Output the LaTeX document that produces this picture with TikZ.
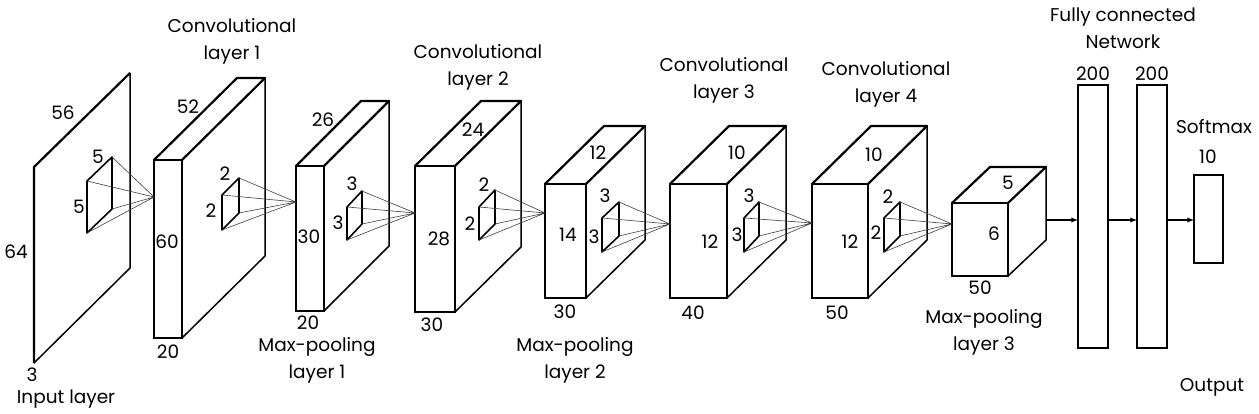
\documentclass[tikz,border=0pt]{standalone}
\usepackage{fontspec}
\setmainfont{Poppins}
\usepackage{tikz}
\usetikzlibrary{arrows,calc}
\usetikzlibrary{positioning}
\tikzset{
    face/.style={
           rectangle,
           draw=black, line width=2.2pt,
           fill=white,
           inner sep=0pt, outer sep=0pt,
           },
    fcbox/.style={
           rectangle,
           draw=black, line width=2pt,
           inner sep=0pt, outer sep=0pt,
           },
    dim/.style={inner sep=0pt},
    title/.style={inner sep=0pt, align=center},
}

\begin{document}
\begin{tikzpicture}[x=1pt,y=-1pt,>=latex,font=\fontsize{18.5}{27}\selectfont]
  \tikzstyle{edge}=[line width=2.2pt,line join=round]
  \tikzstyle{back}=[line width=1.5pt,line join=round]
  \tikzstyle{kern}=[line width=1.6pt,line join=round]
  \tikzstyle{ray}=[line width=0.6pt,black!75]

  \useasboundingbox[fill=white] (0,0) rectangle (1259,414);

  % input plane
  \coordinate (in-bl) at (34,363);
  \coordinate (in-tl) at (34,167);
  \coordinate (in-tr) at (130,73);
  \coordinate (in-br) at (130,268);
  \draw[back] (in-tr) -- (in-br) -- (in-bl);
  \draw[edge] (in-bl) -- (in-tl) -- (in-tr);

  % feature maps
  \node[face, minimum width=28pt, minimum height=178pt] (conv1) at (168,249) {};
  \draw[edge] (conv1.north west) -- ++(83,-82) -- ++(28,0) -- (conv1.north east);
  \draw[back] ($(conv1.north east)+(83,-82)$) -- ++(0,178) -- (conv1.south east);

  \node[face, minimum width=28pt, minimum height=145pt] (pool1) at (310,238.5) {};
  \draw[edge] (pool1.north west) -- ++(65,-65) -- ++(28,0) -- (pool1.north east);
  \draw[back] ($(pool1.north east)+(65,-65)$) -- ++(0,145) -- (pool1.south east);

  \node[face, minimum width=40pt, minimum height=146pt] (conv2) at (435,239) {};
  \draw[edge] (conv2.north west) -- ++(66,-65) -- ++(40,0) -- (conv2.north east);
  \draw[back] ($(conv2.north east)+(66,-65)$) -- ++(0,146) -- (conv2.south east);

  \node[face, minimum width=41pt, minimum height=114pt] (pool2) at (565.5,241) {};
  \draw[edge] (pool2.north west) -- ++(59,-58) -- ++(41,0) -- (pool2.north east);
  \draw[back] ($(pool2.north east)+(59,-58)$) -- ++(0,114) -- (pool2.south east);

  \node[face, minimum width=57pt, minimum height=114pt] (conv3) at (698.5,241) {};
  \draw[edge] (conv3.north west) -- ++(59,-58) -- ++(57,0) -- (conv3.north east);
  \draw[back] ($(conv3.north east)+(59,-58)$) -- ++(0,114) -- (conv3.south east);

  \node[face, minimum width=56pt, minimum height=114pt] (conv4) at (840,241) {};
  \draw[edge] (conv4.north west) -- ++(59,-58) -- ++(56,0) -- (conv4.north east);
  \draw[back] ($(conv4.north east)+(59,-58)$) -- ++(0,114) -- (conv4.south east);

  \node[face, minimum width=56pt, minimum height=73pt] (pool3) at (980,239.5) {};
  \draw[edge] (pool3.north west) -- ++(38,-36) -- ++(56,0) -- (pool3.north east);
  \draw[back] ($(pool3.north east)+(38,-36)$) -- ++(0,73) -- (pool3.south east);

  % kernels and their receptive fields
  \coordinate (t1) at (154,197);
  \draw[kern] (87,233) coordinate (k1) -- ++(0,-52) coordinate (k1tl) -- ++(25,-24) coordinate (k1tr) -- ++(0,52) coordinate (k1br) -- cycle;
  \draw[ray] (t1) -- (k1) (t1) -- (k1tl) (t1) -- (k1tr) (t1) -- (k1br);

  \coordinate (t2) at (296,202);
  \draw[kern] (222,230) coordinate (k2) -- ++(0,-35) coordinate (k2tl) -- ++(17,-17) coordinate (k2tr) -- ++(0,35) coordinate (k2br) -- cycle;
  \draw[ray] (t2) -- (k2) (t2) -- (k2tl) (t2) -- (k2tr) (t2) -- (k2br);

  \coordinate (t3) at (415,213);
  \draw[kern] (347,240) coordinate (k3) -- ++(0,-33) coordinate (k3tl) -- ++(15,-16) coordinate (k3tr) -- ++(0,33) coordinate (k3br) -- cycle;
  \draw[ray] (t3) -- (k3) (t3) -- (k3tl) (t3) -- (k3tr) (t3) -- (k3br);

  \coordinate (t4) at (545,213);
  \draw[kern] (479,240) coordinate (k4) -- ++(0,-33) coordinate (k4tl) -- ++(16,-17) coordinate (k4tr) -- ++(0,34) coordinate (k4br) -- cycle;
  \draw[ray] (t4) -- (k4) (t4) -- (k4tl) (t4) -- (k4tr) (t4) -- (k4br);

  \coordinate (t5) at (670,224);
  \draw[kern] (602,252) coordinate (k5) -- ++(0,-34) coordinate (k5tl) -- ++(17,-16) coordinate (k5tr) -- ++(0,34) coordinate (k5br) -- cycle;
  \draw[ray] (t5) -- (k5) (t5) -- (k5tl) (t5) -- (k5tr) (t5) -- (k5br);

  \coordinate (t6) at (812,223);
  \draw[kern] (744,252) coordinate (k6) -- ++(0,-34) coordinate (k6tl) -- ++(15,-16) coordinate (k6tr) -- ++(0,34) coordinate (k6br) -- cycle;
  \draw[ray] (t6) -- (k6) (t6) -- (k6tl) (t6) -- (k6tr) (t6) -- (k6br);

  \coordinate (t7) at (952,224);
  \draw[kern] (884,252) coordinate (k7) -- ++(0,-34) coordinate (k7tl) -- ++(16,-16) coordinate (k7tr) -- ++(0,34) coordinate (k7br) -- cycle;
  \draw[ray] (t7) -- (k7) (t7) -- (k7tl) (t7) -- (k7tr) (t7) -- (k7br);

  % fully connected part
  \node[fcbox, minimum width=30pt, minimum height=263pt] (fc1) at (1093,216.5) {};
  \node[fcbox, minimum width=30pt, minimum height=263pt] (fc2) at (1152,216.5) {};
  \node[fcbox, minimum width=29pt, minimum height=88pt]  (soft) at (1208.5,219) {};

  \coordinate (flat) at (1046,220);
  \draw[->, line width=1.3pt] (flat) -- (fc1.west |- flat);
  \draw[->, line width=1.3pt] (fc1.east |- flat) -- (fc2.west |- flat);
  \draw[->, line width=1.3pt] (fc2.east |- flat) -- (soft.west |- flat);

  % sizes
  \node[dim] (in-w)  at (63,113)  {56};
  \node[dim] (in-h)  at (16,252)  {64};
  \node[dim] (in-d)  at (32,375)  {3};
  \node[dim] (k1-w)  at (98,157)  {5};
  \node[dim] (k1-h)  at (79,207)  {5};

  \node[dim] (c1-w)  at (188,107) {52};
  \node[dim] (c1-h)  at (167,242) {60};
  \node[dim] (c1-d)  at (168,352) {20};
  \node[dim] (k2-w)  at (225,174) {2};
  \node[dim] (k2-h)  at (211,211) {2};

  \node[dim] (p1-w)  at (323,120) {26};
  \node[dim] (p1-h)  at (309,237) {30};
  \node[dim] (p1-d)  at (308,323) {20};
  \node[dim] (k3-w)  at (352,184) {3};
  \node[dim] (k3-h)  at (338,223) {3};

  \node[dim] (c2-w)  at (473,130) {24};
  \node[dim] (c2-h)  at (439,239) {28};
  \node[dim] (c2-d)  at (432,325) {30};
  \node[dim] (k4-w)  at (484,185) {2};
  \node[dim] (k4-h)  at (470,224) {2};

  \node[dim] (p2-w)  at (598,153) {12};
  \node[dim] (p2-h)  at (568,235) {14};
  \node[dim] (p2-d)  at (565,312) {30};
  \node[dim] (k5-w)  at (605,196) {3};
  \node[dim] (k5-h)  at (594,237) {3};

  \node[dim] (c3-w)  at (737,153) {10};
  \node[dim] (c3-h)  at (710,242) {12};
  \node[dim] (c3-d)  at (693,313) {40};
  \node[dim] (k6-w)  at (749,196) {3};
  \node[dim] (k6-h)  at (737,235) {3};

  \node[dim] (c4-w)  at (874,155) {10};
  \node[dim] (c4-h)  at (850,242) {12};
  \node[dim] (c4-d)  at (837,313) {50};
  \node[dim] (k7-w)  at (888,197) {2};
  \node[dim] (k7-h)  at (876,233) {2};

  \node[dim] (p3-w)  at (1008,183) {5};
  \node[dim] (p3-h)  at (994,234)  {6};
  \node[dim] (p3-d)  at (980,288)  {50};

  \node[dim] (fc1-n) at (1093,74)  {200};
  \node[dim] (fc2-n) at (1152,74)  {200};
  \node[dim] (soft-n) at (1208,157) {10};

  % layer names
  \node[title] (in-t)   at (66,399)   {Input layer};
  \node[title] (c1-t)   at (232,41)   {Convolutional\\layer 1};
  \node[title] (p1-t)   at (317,360)  {Max-pooling\\layer 1};
  \node[title] (c2-t)   at (478,67)   {Convolutional\\layer 2};
  \node[title] (p2-t)   at (575,360)  {Max-pooling\\layer 2};
  \node[title] (c3-t)   at (724,80)   {Convolutional\\layer 3};
  \node[title] (c4-t)   at (886,84)   {Convolutional\\layer 4};
  \node[title] (p3-t)   at (984,332)  {Max-pooling\\layer 3};
  \node[title] (fc-t)   at (1123,28)  {Fully connected\\Network};
  \node[title] (soft-t) at (1214,127) {Softmax};
  \node[title] (out-t)  at (1212,387) {Output};
\end{tikzpicture}
\end{document}
